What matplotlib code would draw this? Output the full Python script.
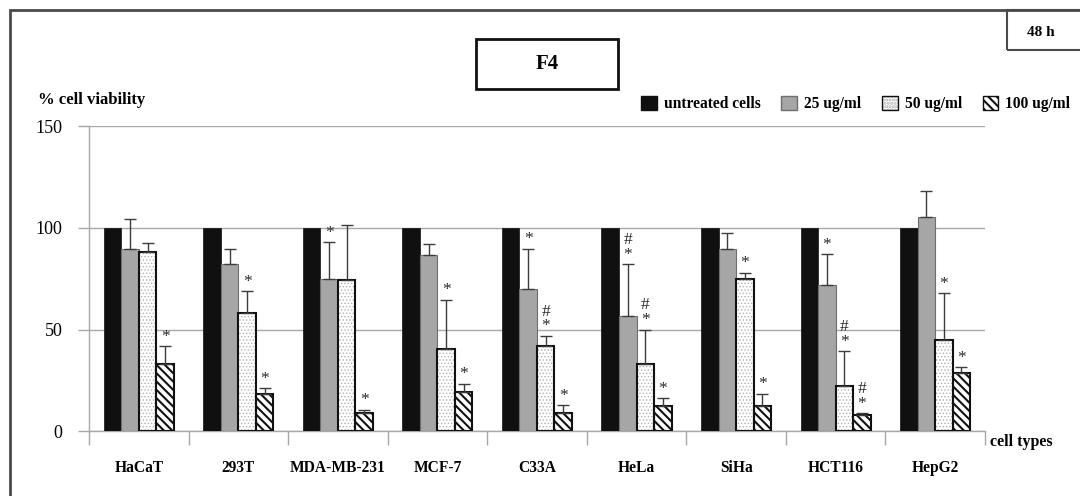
import numpy as np
import matplotlib
matplotlib.use('Agg')
import matplotlib.pyplot as plt
from matplotlib.patches import Patch, Rectangle
from matplotlib.legend_handler import HandlerTuple

plt.rcParams['font.family'] = ['Liberation Serif', 'DejaVu Serif']
plt.rcParams['hatch.linewidth'] = 1.5

# Cell viability (%) after 48 h with F4
cells = ['HaCaT', '293T', 'MDA-MB-231', 'MCF-7', 'C33A', 'HeLa', 'SiHa', 'HCT116', 'HepG2']
untreated = [100, 100, 100, 100, 100, 100, 100, 100, 100]
c25 = [89.7, 82.0, 74.6, 86.4, 69.7, 56.6, 89.5, 72.1, 105.4]
c25_err = [14.4, 7.8, 18.4, 5.6, 20.1, 25.5, 7.9, 15.0, 12.6]
c50 = [87.9, 58.2, 74.3, 40.5, 42.0, 33.3, 74.9, 22.3, 44.8]
c50_err = [4.4, 10.7, 27.3, 24.2, 4.9, 16.7, 3.1, 17.0, 23.1]
c100 = [33.1, 18.2, 9.2, 19.3, 8.8, 12.4, 12.4, 8.0, 28.5]
c100_err = [8.7, 2.9, 1.4, 4.1, 4.0, 3.8, 6.1, 1.0, 3.1]

# significance marks: * vs untreated, # vs HaCaT
c25_sig = ['', '', '*', '', '*', '#\n*', '', '*', '']
c50_sig = ['', '*', '', '*', '#\n*', '#\n*', '*', '#\n*', '*']
c100_sig = ['*', '*', '*', '*', '*', '*', '*', '#\n*', '*']

fig = plt.figure(figsize=(10.8, 4.96), dpi=100)
ax = fig.add_axes([0.0824, 0.1304, 0.8296, 0.6155])

x = np.arange(len(cells))
w = 0.176
grid_c = '#a8a8a8'
dot_c = '#b0b0b0'

ax.bar(x - 1.5 * w, untreated, w, color='#101010', edgecolor='#101010', lw=0.5, zorder=3)
ax.bar(x - 0.5 * w, c25, w, color='#a6a6a6', edgecolor='#6e6e6e', lw=0.8, zorder=3)
# dotted bars: fine grey dots under a black outline
with plt.rc_context({'hatch.linewidth': 0.6}):
    ax.bar(x + 0.5 * w, c50, w, color='white', edgecolor=dot_c, hatch='.....', lw=0, zorder=3)
    dots_patch = Patch(facecolor='white', edgecolor=dot_c, hatch='.....', lw=0)
ax.bar(x + 0.5 * w, c50, w, color='none', edgecolor='#111111', lw=1.5, zorder=4)
ax.bar(x + 1.5 * w, c100, w, color='white', edgecolor='#111111', hatch='\\\\\\\\', lw=1.5, zorder=3)

for off, vals, errs, sigs in [(-0.5, c25, c25_err, c25_sig),
                              (0.5, c50, c50_err, c50_sig),
                              (1.5, c100, c100_err, c100_sig)]:
    xs = x + off * w
    ax.errorbar(xs, vals, yerr=[np.zeros(len(vals)), errs], fmt='none',
                ecolor='#3c3c3c', elinewidth=1, capsize=4, capthick=1, zorder=5)
    for xi, v, e, s in zip(xs, vals, errs, sigs):
        if s:
            ax.annotate(s, (xi, v + e), xytext=(0, 1), textcoords='offset points',
                        ha='center', va='bottom', fontsize=12.5, color='#2a2a2a',
                        linespacing=0.9, zorder=6)

ax.set_xlim(-0.5, len(cells) - 0.5)
ax.set_ylim(0, 150)
ax.set_yticks([0, 50, 100, 150])
ax.yaxis.grid(True, color=grid_c, lw=1, zorder=0)
ax.set_axisbelow(True)
for s in ['top', 'right']:
    ax.spines[s].set_visible(False)
for s in ['left', 'bottom']:
    ax.spines[s].set_color(grid_c)
    ax.spines[s].set_linewidth(1)

ax.set_xticks(x)
ax.set_xticklabels(cells, fontsize=11.2, fontweight='bold')
ax.set_xticks(np.arange(-0.5, len(cells)), minor=True)
ax.tick_params(axis='x', which='major', length=0, pad=21)
ax.tick_params(axis='x', which='minor', length=10, color=grid_c, width=1)
ax.tick_params(axis='y', length=8, color=grid_c, width=1, pad=11, labelsize=13)

fig.text(0.035, 0.798, '% cell viability', fontsize=12, fontweight='bold', va='center')
fig.text(0.917, 0.109, 'cell types', fontsize=11.5, fontweight='bold', va='center')

# legend
h_black = Patch(facecolor='#101010', edgecolor='#101010')
h_grey = Patch(facecolor='#a6a6a6', edgecolor='#6e6e6e')
h_dots = (dots_patch, Patch(facecolor='none', edgecolor='#111111', lw=1))
h_hatch = Patch(facecolor='white', edgecolor='#111111', hatch='\\\\\\\\', lw=1)
fig.legend([h_black, h_grey, h_dots, h_hatch],
           ['untreated cells', '25 ug/ml', '50 ug/ml', '100 ug/ml'],
           handler_map={tuple: HandlerTuple(ndivide=1, pad=0)},
           loc='center left', bbox_to_anchor=(0.5935, 0.79), ncol=4, frameon=False,
           prop={'size': 11.2, 'weight': 'bold'}, handlelength=1.0, handleheight=1.0,
           handletextpad=0.45, columnspacing=1.35, borderaxespad=0, borderpad=0)

# frames and title boxes
fig.add_artist(Rectangle((0.0093, -0.1), 1.1, 1.08, transform=fig.transFigure,
                         fill=False, edgecolor='#4a4a4a', lw=2))
fig.add_artist(Rectangle((0.4407, 0.8206), 0.1312, 0.1002, transform=fig.transFigure,
                         fill=False, edgecolor='#111111', lw=2))
fig.text(0.5065, 0.871, 'F4', fontsize=15, fontweight='bold', ha='center', va='center')
fig.add_artist(Rectangle((0.932, 0.899), 0.1, 0.081, transform=fig.transFigure,
                         fill=False, edgecolor='#4a4a4a', lw=1.5))
fig.text(0.964, 0.935, '48 h', fontsize=11, fontweight='bold', ha='center', va='center')

fig.savefig('out.png', dpi=100)
